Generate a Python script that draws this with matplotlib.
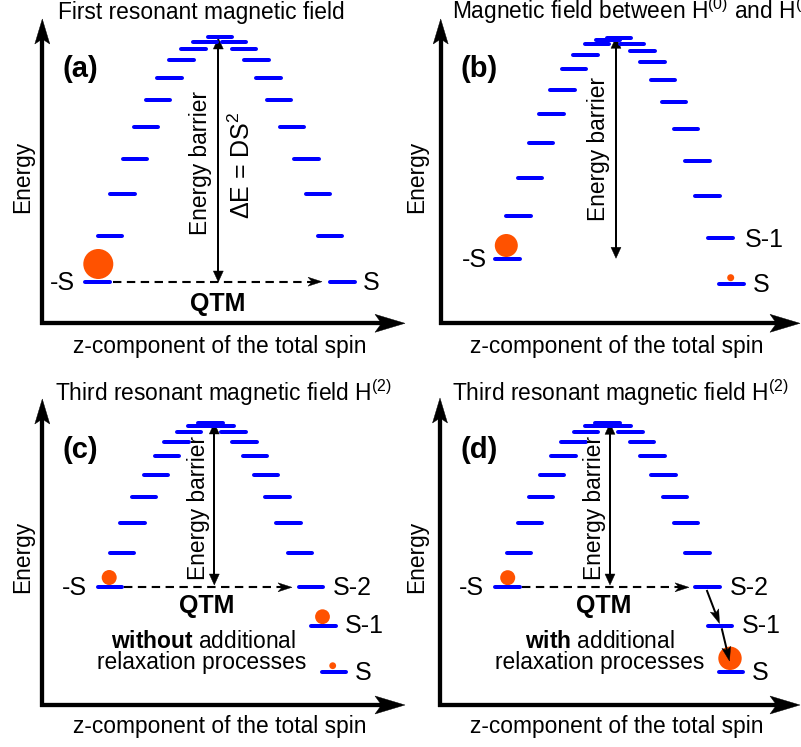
import numpy as np
import matplotlib

matplotlib.use("Agg")
import matplotlib.pyplot as plt
from matplotlib.patches import Circle, Polygon


# Spin levels: x runs along the z-component of the spin,
# y is the level energy (image pixels, energy grows upwards = smaller y).
A_LEVEL_X = [97.5, 110, 122.5, 135, 146, 158, 169.5, 181.5, 193.5, 205, 220,
             234, 244, 256.5, 268.5, 279, 292, 306.5, 318, 330, 342.5]
A_LEVEL_Y = [281.7, 235.7, 194.3, 158.7, 127, 100, 77.7, 60.3, 49, 42, 36.7,
             42, 49, 60.3, 77.7, 100, 127, 158.7, 194.3, 235.7, 281.7]

B_LEVEL_X = [507.5, 518.5, 530, 541, 551.5, 562.5, 574, 585.5, 597, 608, 619,
             632, 642.5, 652.5, 663, 674, 686, 697.5, 707.5, 720.5, 731.5]
B_LEVEL_Y = [259, 215.7, 177.7, 142.7, 113.7, 89.7, 69.3, 55.3, 44.3, 40, 38.3,
             43.8, 50.5, 62.3, 79.7, 101.7, 129, 161.3, 196, 237.7, 283.7]

C_LEVEL_X = [110, 122, 132.7, 144, 156, 167, 176.5, 189, 200, 210.5, 222,
             233.5, 244.5, 255, 266, 277.5, 288.5, 300, 311, 323.5, 334]
C_LEVEL_Y = [587.3, 552.7, 522.7, 496.7, 474.7, 456, 442, 432.3, 426, 422.7, 426,
             432.3, 442, 456, 474.7, 496.7, 522.7, 552.7, 587.3, 626, 671.7]

D_LEVEL_X = [507.5, 519, 530, 541, 552, 563.5, 573.5, 586, 597.5, 607.5, 618.5,
             630.5, 642, 652.5, 663.5, 675, 686, 697.5, 707.5, 720, 731]
D_LEVEL_Y = C_LEVEL_Y

# populations (orange dots): centre and radius
A_DOTS = [(98.3, 264, 15)]
B_DOTS = [(506.3, 245.5, 11.5), (730.7, 277.7, 3.5)]
C_DOTS = [(109.2, 577.5, 7.5), (322.5, 616.7, 7.4), (332.7, 665.7, 3.4)]
D_DOTS = [(507.7, 577.7, 7.5), (730, 658.3, 11.7)]

TITLES = [
    "First resonant magnetic field",
    "Magnetic field between H$^{(0)}$ and H$^{(1)}$",
    "Third resonant magnetic field H$^{(2)}$",
    "Third resonant magnetic field H$^{(2)}$",
]
PANEL_TAGS = ["(a)", "(b)", "(c)", "(d)"]

BLUE = "#0000ff"
ORANGE = "#ff5200"
PX = 0.72  # points per pixel at 100 dpi
FS = 16.4

plt.rcParams.update({
    "font.family": ["Liberation Sans", "DejaVu Sans"],
    "mathtext.fontset": "custom",
    "mathtext.rm": "Liberation Sans",
    "mathtext.it": "Liberation Sans:italic",
    "mathtext.bf": "Liberation Sans:bold",
})


def head(ax, tail, tip, length, half_w, notch):
    tail = np.asarray(tail, float)
    tip = np.asarray(tip, float)
    u = (tip - tail) / np.hypot(*(tip - tail))
    n = np.array([-u[1], u[0]])
    base = tip - u * length
    pts = [tip, base + n * half_w, base + u * notch, base - n * half_w]
    ax.add_patch(Polygon(pts, closed=True, fc="black", ec="black", lw=0.3))
    return base + u * (notch + 0.5)


def arrow(ax, start, tip, lw, length, half_w, notch, ls="-"):
    end = head(ax, start, tip, length, half_w, notch)
    ax.plot([start[0], end[0]], [start[1], end[1]], color="black", lw=lw,
            ls=ls, solid_capstyle="butt")


def double_arrow(ax, x, y_top, y_bot):
    a = head(ax, (x, y_bot), (x, y_top), 11, 5, 0)
    b = head(ax, (x, y_top), (x, y_bot), 11, 5, 0)
    ax.plot([x, x], [a[1], b[1]], color="black", lw=2 * PX, solid_capstyle="butt")


def frame(ax, ox, oy, vtip, htip):
    arrow(ax, (ox, oy + 2), (ox, vtip), 4.3 * PX, 25, 7.5, 5)
    arrow(ax, (ox - 2, oy), (htip, oy), 4.3 * PX, 30, 9, 6.5)


def levels(ax, xs, ys):
    xs = np.asarray(xs)
    ax.hlines(ys, xs - 12.3, xs + 12.3, colors=BLUE, linewidth=4 * PX,
              capstyle="round")


def dots(ax, items):
    for x, y, r in items:
        ax.add_patch(Circle((x, y), r, fc=ORANGE, ec="none"))


fig = plt.figure(figsize=(8.01, 7.47), dpi=100)
ax = fig.add_axes([0, 0, 1, 1])
ax.set_xlim(0, 801)
ax.set_ylim(747, 0)
ax.axis("off")

# axes of each panel
frame(ax, 42.3, 323.3, 19, 405)
frame(ax, 440.7, 323.3, 19, 800)
frame(ax, 42.3, 705, 399, 405)
frame(ax, 440, 705, 398, 800)

for xs, ys in [(A_LEVEL_X, A_LEVEL_Y), (B_LEVEL_X, B_LEVEL_Y),
               (C_LEVEL_X, C_LEVEL_Y), (D_LEVEL_X, D_LEVEL_Y)]:
    levels(ax, xs, ys)

for d in (A_DOTS, B_DOTS, C_DOTS, D_DOTS):
    dots(ax, d)

# energy barriers
double_arrow(ax, 218.3, 38, 282)
double_arrow(ax, 616, 37.3, 258.3)
double_arrow(ax, 214.3, 423, 585)
double_arrow(ax, 610, 423.3, 585)

# QTM (dashed) and relaxation arrows
dash = (0, (4, 2.6))
arrow(ax, (113, 281.7), (322, 281.7), 1.5 * PX * 1.4, 14, 4.5, 4, ls=dash)
arrow(ax, (124, 587.3), (292, 587.3), 1.5 * PX * 1.4, 14, 4.5, 4, ls=dash)
arrow(ax, (521.7, 587.3), (689, 587.3), 1.5 * PX * 1.4, 14, 4.5, 4, ls=dash)
arrow(ax, (706.7, 590), (719.5, 623.5), 2 * PX, 14, 4.5, 3)
arrow(ax, (721.7, 628.3), (729.5, 661), 2 * PX, 14, 4.5, 3)

# titles, panel tags, axis labels
title_pos = [(201.7, 19.5, "center"), (452, 19.5, "left"),
             (55, 400.7, "left"), (452, 400.7, "left")]
for (x, y, ha), t in zip(title_pos, TITLES):
    ax.text(x, y, t, fontsize=FS, ha=ha, va="baseline")

for (x, y), t in zip([(62, 77.3), (460, 76.7), (63, 458.3), (460, 458.3)], PANEL_TAGS):
    ax.text(x, y, t, fontsize=21, fontweight="bold", ha="left", va="baseline")

for x, y in [(22.5, 177), (416.5, 177), (22.5, 557), (416.5, 557)]:
    ax.text(x, y, "Energy", fontsize=FS, rotation=90, ha="center", va="center")

for x, y in [(220, 353), (617, 353), (220, 733.3), (617, 733.3)]:
    ax.text(x, y, "z-component of the total spin", fontsize=FS,
            ha="center", va="baseline")

for x, y in [(200.7, 163.3), (598, 149), (198, 508.5), (595, 508.5)]:
    ax.text(x, y, "Energy barrier", fontsize=FS, rotation=90,
            ha="center", va="center")
ax.text(242, 165, "ΔE = DS$^{2}$", fontsize=18, rotation=90,
        ha="center", va="center")

# state labels
state_labels = [
    (50, 290, "-S"), (363, 290, "S"),
    (462, 266.7, "-S"), (745, 246.7, "S-1"), (753, 291.7, "S"),
    (62, 595, "-S"), (333, 595, "S-2"), (345, 633.3, "S-1"), (355, 680, "S"),
    (459, 595, "-S"), (730, 595, "S-2"), (742, 633.3, "S-1"), (752, 680, "S"),
]
for x, y, t in state_labels:
    ax.text(x, y, t, fontsize=18, ha="left", va="baseline")

for x, y in [(218, 310.7), (207, 613.3), (604, 613.3)]:
    ax.text(x, y, "QTM", fontsize=18, fontweight="bold", ha="center", va="baseline")

ax.text(203.5, 647.5, r"$\mathbf{without}$ additional", fontsize=FS,
        ha="center", va="baseline")
ax.text(202, 669, "relaxation processes", fontsize=FS, ha="center", va="baseline")
ax.text(600, 647.5, r"$\mathbf{with}$ additional", fontsize=FS,
        ha="center", va="baseline")
ax.text(600, 669, "relaxation processes", fontsize=FS, ha="center", va="baseline")

fig.savefig("out.png", dpi=100)
plt.close(fig)
